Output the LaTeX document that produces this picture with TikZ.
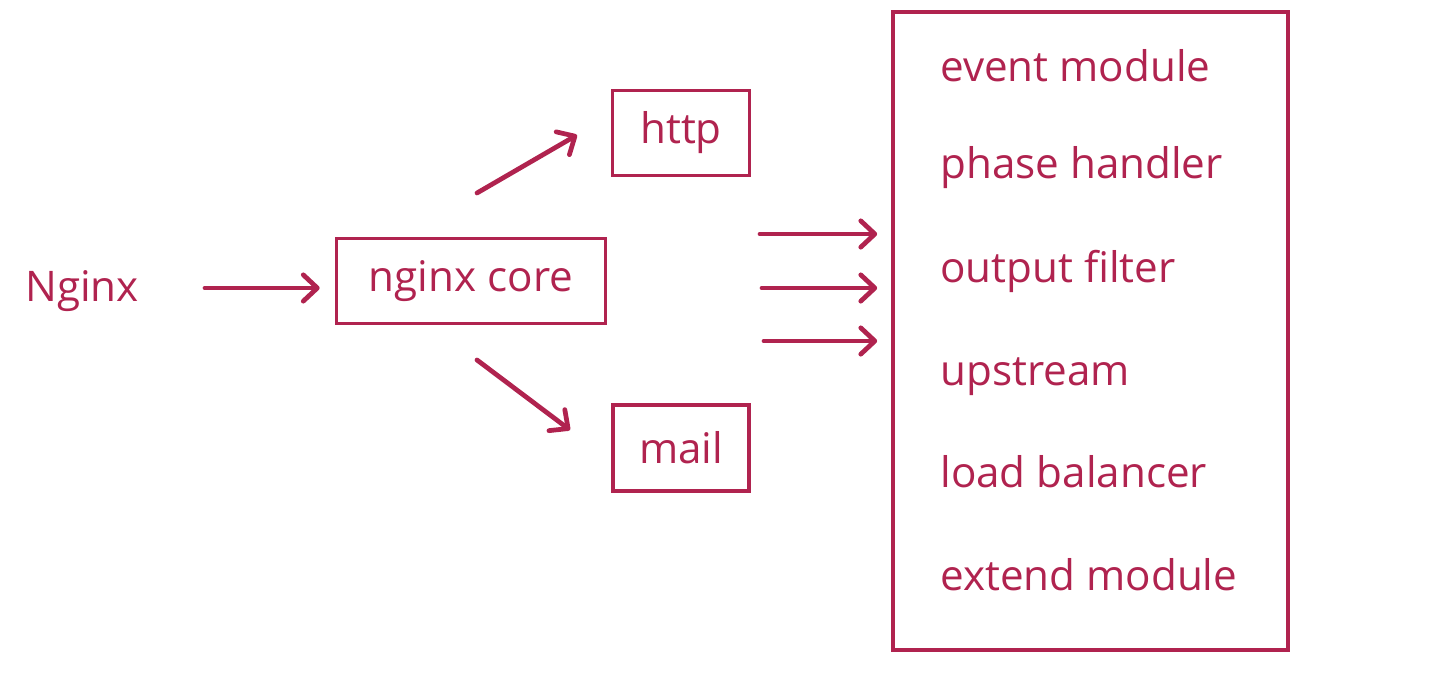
\documentclass[tikz,border=0pt]{standalone}
\usepackage{fontspec}
\setmainfont{Open Sans}
\usetikzlibrary{arrows.meta}
\definecolor{nxred}{HTML}{B0234F}

\begin{document}
\begin{tikzpicture}[x=0.02cm,y=-0.02cm,
        every node/.style={text=nxred,font=\fontsize{24}{29}\selectfont},
        box/.style={draw=nxred,line width=2.1pt,inner sep=0pt},
        arr/.style={draw=nxred,line width=2.7pt,line cap=round,line join=round,
            -{Straight Barb[length=8pt,width=15pt,round]}}]
    \useasboundingbox (0,0) rectangle (1435,682);

    \node (nginx) at (82,291) {Nginx};
    \node[box,minimum width=5.38cm,minimum height=1.7cm] (core) at (471,281) {\raisebox{-3pt}{nginx core}};
    \node[box,minimum width=2.74cm,minimum height=1.7cm] (http) at (681,133) {http};
    \node[box,minimum width=2.72cm,minimum height=1.72cm] (mail) at (681,448) {mail};
    \node[box,minimum width=7.9cm,minimum height=12.76cm] (modules) at (1090.5,331) {};

    % modules inside the big box
    \foreach \t/\y [count=\i] in {event module/82,phase handler/178,output filter/282,
            upstream/385,load balancer/487,extend module/590}
        \node[anchor=base west,inner sep=0pt] (m\i) at (940,\y) {\t};

    \coordinate (in) at (205,288);
    \coordinate (up) at (477,193);
    \coordinate (dn) at (477,360);
    \coordinate (r1) at (760,234);
    \coordinate (r2) at (762,288);
    \coordinate (r3) at (764,341);

    \draw[arr,shorten >=0.3cm] (in) -- (in -| core.west);
    \draw[arr] (up) -- (577,135);
    \draw[arr] (dn) -- (570,430);
    \foreach \r in {r1,r2,r3}
        \draw[arr,shorten >=0.28cm] (\r) -- (\r -| modules.west);
\end{tikzpicture}
\end{document}
